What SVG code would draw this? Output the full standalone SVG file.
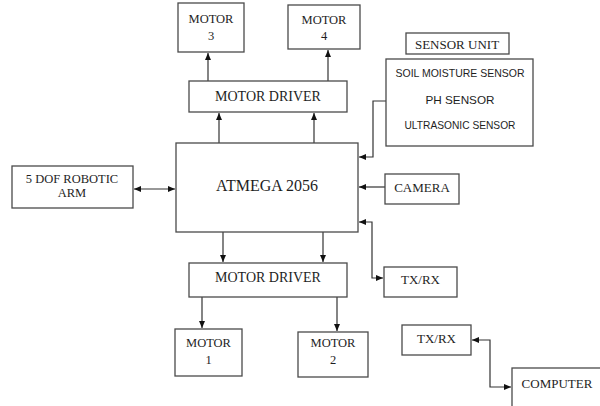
<svg xmlns="http://www.w3.org/2000/svg" width="600" height="406" viewBox="0 0 600 406">
<style>
.box{fill:#fff;stroke:#4a4a4a;stroke-width:1.3}
.t{font-family:"Liberation Serif","Times New Roman",serif;fill:#1e1e1e;text-anchor:middle}
.s{font-family:"Liberation Sans",Arial,sans-serif;fill:#1e1e1e;text-anchor:middle;font-size:11.5px}
.c{fill:none;stroke:#333;stroke-width:1.2}
</style>
<defs>
<marker id="ah" markerUnits="userSpaceOnUse" markerWidth="8" markerHeight="8" refX="7" refY="4" orient="auto-start-reverse" viewBox="0 0 8 8">
<path d="M0,1 L7,4 L0,7 Z" fill="#111"/>
</marker>
</defs>
<rect width="600" height="406" fill="#fff"/>
<g id="connectors">
<line class="c" x1="208" y1="81" x2="208" y2="53" marker-end="url(#ah)"/>
<line class="c" x1="328" y1="81" x2="328" y2="50" marker-end="url(#ah)"/>
<line class="c" x1="219" y1="143" x2="219" y2="113" marker-end="url(#ah)"/>
<line class="c" x1="314" y1="143" x2="314" y2="113" marker-end="url(#ah)"/>
<line class="c" x1="223" y1="232" x2="223" y2="262" marker-end="url(#ah)"/>
<line class="c" x1="323" y1="232" x2="323" y2="262" marker-end="url(#ah)"/>
<line class="c" x1="202" y1="297" x2="202" y2="328" marker-end="url(#ah)"/>
<line class="c" x1="337" y1="297" x2="337" y2="331" marker-end="url(#ah)"/>
<polyline class="c" points="386,101 373,101 373,157 359,157" marker-end="url(#ah)"/>
<line class="c" x1="385" y1="187" x2="359" y2="187" marker-end="url(#ah)"/>
<polyline class="c" points="359,222 372,222 372,278 383,278" marker-start="url(#ah)" marker-end="url(#ah)"/>
<line class="c" x1="134" y1="189" x2="175" y2="189" marker-start="url(#ah)" marker-end="url(#ah)"/>
<polyline class="c" points="472,340 490,340 490,387 511,387" marker-start="url(#ah)" marker-end="url(#ah)"/>
</g>
<g id="motor3"><rect class="box" x="178" y="3" width="66" height="49"/><text class="t" font-size="12.5" x="211" y="23">MOTOR</text><text class="t" font-size="12.5" x="211" y="40">3</text></g>
<g id="motor4"><rect class="box" x="288" y="5" width="72" height="44"/><text class="t" font-size="12.5" x="324" y="24">MOTOR</text><text class="t" font-size="12.5" x="324" y="40">4</text></g>
<g id="driver_top"><rect class="box" x="189" y="81" width="158" height="31"/><text class="t" font-size="14" x="268" y="101">MOTOR DRIVER</text></g>
<g id="sensor_unit_label"><rect class="box" x="406" y="33" width="103" height="21"/><text class="t" font-size="13" x="457" y="49">SENSOR UNIT</text></g>
<g id="sensor_unit"><rect class="box" x="386" y="59" width="147" height="87"/>
<text class="s" x="460" y="77" textLength="129" lengthAdjust="spacingAndGlyphs">SOIL MOISTURE SENSOR</text>
<text class="s" x="460" y="104" textLength="69" lengthAdjust="spacingAndGlyphs">PH SENSOR</text>
<text class="s" x="460" y="129" textLength="111" lengthAdjust="spacingAndGlyphs">ULTRASONIC SENSOR</text></g>
<g id="arm"><rect class="box" x="12" y="166" width="121" height="42"/><text class="t" font-size="12.5" x="72" y="183">5 DOF ROBOTIC</text><text class="t" font-size="12.5" x="72" y="197">ARM</text></g>
<g id="atmega"><rect class="box" x="176" y="143" width="182" height="89"/><text class="t" font-size="16" x="267" y="190.5">ATMEGA 2056</text></g>
<g id="camera"><rect class="box" x="385" y="174" width="74" height="30"/><text class="t" font-size="13" x="422" y="191.5">CAMERA</text></g>
<g id="txrx1"><rect class="box" x="384" y="267" width="73" height="30"/><text class="t" font-size="13" x="420.5" y="284">TX/RX</text></g>
<g id="driver_bottom"><rect class="box" x="189" y="263" width="158" height="34"/><text class="t" font-size="14" x="268" y="282">MOTOR DRIVER</text></g>
<g id="motor1"><rect class="box" x="175" y="329" width="67" height="47"/><text class="t" font-size="12.5" x="208.5" y="347">MOTOR</text><text class="t" font-size="12.5" x="208.5" y="364">1</text></g>
<g id="motor2"><rect class="box" x="298" y="332" width="70" height="45"/><text class="t" font-size="12.5" x="333" y="347">MOTOR</text><text class="t" font-size="12.5" x="333" y="364">2</text></g>
<g id="txrx2"><rect class="box" x="402" y="325" width="69" height="30"/><text class="t" font-size="13" x="436.5" y="342.5">TX/RX</text></g>
<g id="computer"><rect class="box" x="512" y="368" width="92" height="44"/><text class="t" font-size="13" x="557" y="387.5">COMPUTER</text></g>
</svg>
